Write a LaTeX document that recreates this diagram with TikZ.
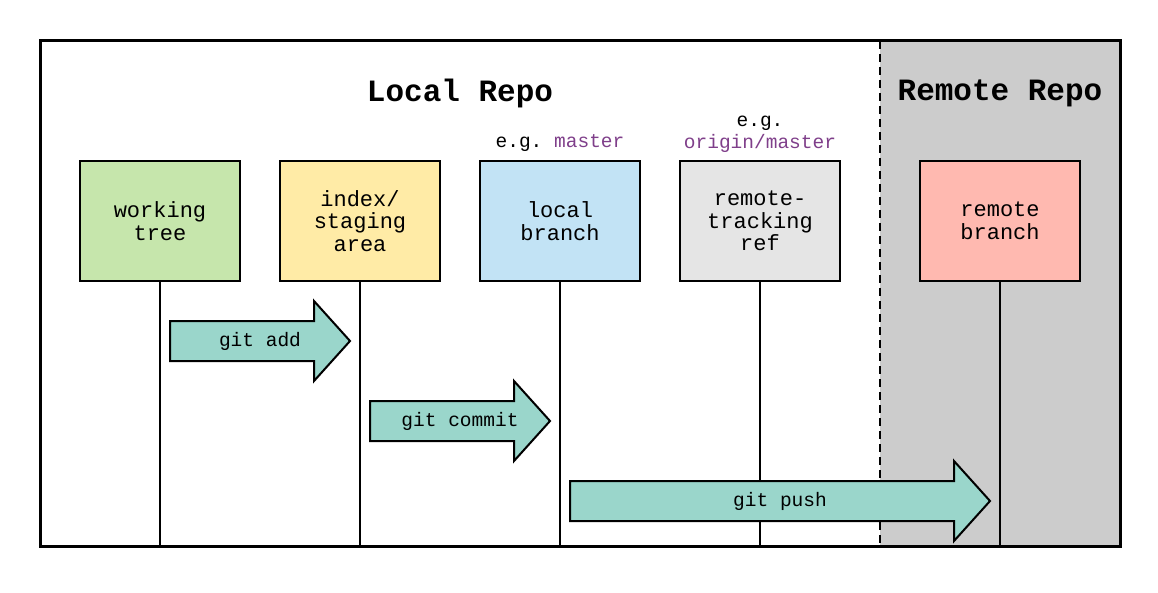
\documentclass[tikz,border=0pt]{standalone}
\usepackage{fontspec}
\setmonofont{Liberation Mono}
\definecolor{cgreen}{HTML}{C6E6AC}
\definecolor{cyellow}{HTML}{FFEBA6}
\definecolor{cblue}{HTML}{C2E3F5}
\definecolor{cgray}{HTML}{E5E5E5}
\definecolor{cpink}{HTML}{FFB9B0}
\definecolor{cremote}{HTML}{CCCCCC}
\definecolor{carrow}{HTML}{9AD6CB}
\definecolor{cpurple}{HTML}{7F3F8A}
\begin{document}
\begin{tikzpicture}[x=1pt,y=-1pt,
  box/.style={draw=black,line width=2pt,minimum width=160pt,minimum height=120pt,inner sep=0pt,outer sep=0pt,align=center,font=\ttfamily\fontsize{22}{22.5}\selectfont},
  title/.style={font=\ttfamily\bfseries\fontsize{31}{34}\selectfont},
  note/.style={font=\ttfamily\fontsize{19.5}{21}\selectfont},
  arrowtext/.style={font=\ttfamily\fontsize{19.5}{21}\selectfont},
  bigarrow/.style={draw=black,fill=carrow,line width=2pt,line join=miter},
  vline/.style={line width=1.5pt}]
\useasboundingbox (0,0) rectangle (1158,593);
\fill[cremote] (880,41) rectangle (1120,546);
\draw[dashed,line width=1.5pt,dash pattern=on 8pt off 5pt] (880,41) -- (880,546);
\node[title] (local) at (460,93) {Local Repo};
\node[title] (remote) at (1000,93) {Remote Repo};
\node[note] (eg1) at (560,143) {e.g. \textcolor{cpurple}{master}};
\node[note] (eg2) at (760,123) {e.g.};
\node[note,text=cpurple] (eg3) at (760,143) {origin/master};
\node[box,fill=cgreen] (wt) at (160,221) {working\\tree};
\node[box,fill=cyellow] (ix) at (360,221) {index/\\staging\\area};
\node[box,fill=cblue] (lb) at (560,221) {local\\branch};
\node[box,fill=cgray] (rt) at (760,221) {remote-\\tracking\\ref};
\node[box,fill=cpink] (rb) at (1000,221) {remote\\branch};
\coordinate (wtb) at (160,546);
\coordinate (ixb) at (360,546);
\coordinate (lbb) at (560,546);
\coordinate (rtb) at (760,546);
\coordinate (rbb) at (1000,546);
\draw[vline] (wt.south) -- (wtb);
\draw[vline] (ix.south) -- (ixb);
\draw[vline] (lb.south) -- (lbb);
\draw[vline] (rt.south) -- (rtb);
\draw[vline] (rb.south) -- (rbb);
\draw[bigarrow] (170,321) -- (314,321) -- (314,301) -- (350,341) -- (314,381) -- (314,361) -- (170,361) -- cycle;
\node[arrowtext] (add) at (260,341) {git add};
\draw[bigarrow] (370,401) -- (514,401) -- (514,381) -- (550,421) -- (514,461) -- (514,441) -- (370,441) -- cycle;
\node[arrowtext] (commit) at (460,421) {git commit};
\draw[bigarrow] (570,481) -- (954,481) -- (954,461) -- (990,501) -- (954,541) -- (954,521) -- (570,521) -- cycle;
\node[arrowtext] (push) at (780,501) {git push};
\draw[line width=3pt] (40,41) rectangle (1120,546);
\end{tikzpicture}
\end{document}
